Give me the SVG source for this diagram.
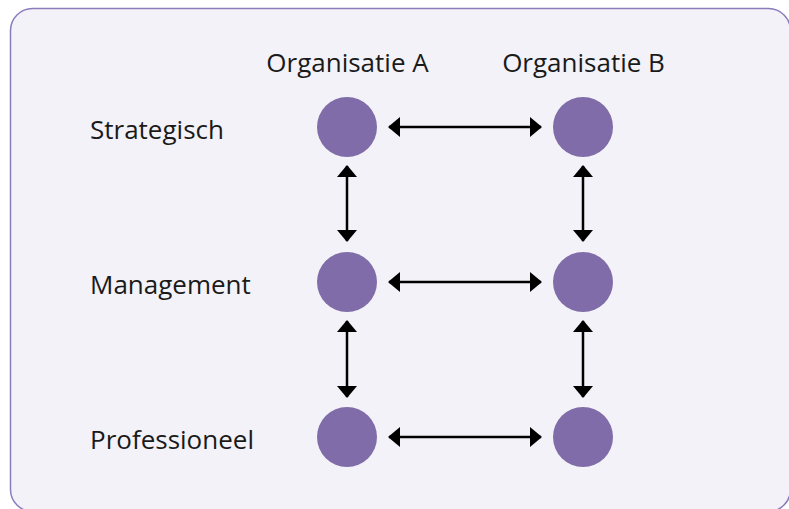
<svg xmlns="http://www.w3.org/2000/svg" width="789" height="509" viewBox="0 0 789 509">
<defs>
<style>
.lbl{font-family:"Open Sans","Noto Sans","Liberation Sans",sans-serif;font-size:26px;fill:#1a1a1a}
.node{fill:#7f6ca8}
.conn{stroke:#000;stroke-width:2.5;fill:none;marker-start:url(#ah);marker-end:url(#ah)}
</style>
<marker id="ah" viewBox="0 0 12 20" refX="11" refY="10" markerWidth="12" markerHeight="20" markerUnits="userSpaceOnUse" orient="auto-start-reverse">
<path d="M0,0 L12,10 L0,20 Z" fill="#000"/>
</marker>
</defs>
<rect x="10.5" y="8.5" width="780" height="503" rx="22" fill="#f3f2f8" stroke="#8a7cbb" stroke-width="1.5"/>
<g id="headers">
<text class="lbl" x="347.5" y="72" text-anchor="middle">Organisatie A</text>
<text class="lbl" x="583.5" y="72" text-anchor="middle">Organisatie B</text>
</g>
<g id="rowlabels">
<text class="lbl" x="90" y="139">Strategisch</text>
<text class="lbl" x="90" y="294">Management</text>
<text class="lbl" x="90" y="449">Professioneel</text>
</g>
<g id="A-strategisch"><circle class="node" cx="347" cy="127" r="30"/></g>
<g id="B-strategisch"><circle class="node" cx="583" cy="127" r="30"/></g>
<g id="A-management"><circle class="node" cx="347" cy="282" r="30"/></g>
<g id="B-management"><circle class="node" cx="583" cy="282" r="30"/></g>
<g id="A-professioneel"><circle class="node" cx="347" cy="437" r="30"/></g>
<g id="B-professioneel"><circle class="node" cx="583" cy="437" r="30"/></g>
<g id="connectors">
<line class="conn" x1="389" y1="127" x2="541" y2="127"/>
<line class="conn" x1="389" y1="282" x2="541" y2="282"/>
<line class="conn" x1="389" y1="437" x2="541" y2="437"/>
<line class="conn" x1="347" y1="166" x2="347" y2="241"/>
<line class="conn" x1="583" y1="166" x2="583" y2="241"/>
<line class="conn" x1="347" y1="321" x2="347" y2="397"/>
<line class="conn" x1="583" y1="321" x2="583" y2="397"/>
</g>
</svg>
